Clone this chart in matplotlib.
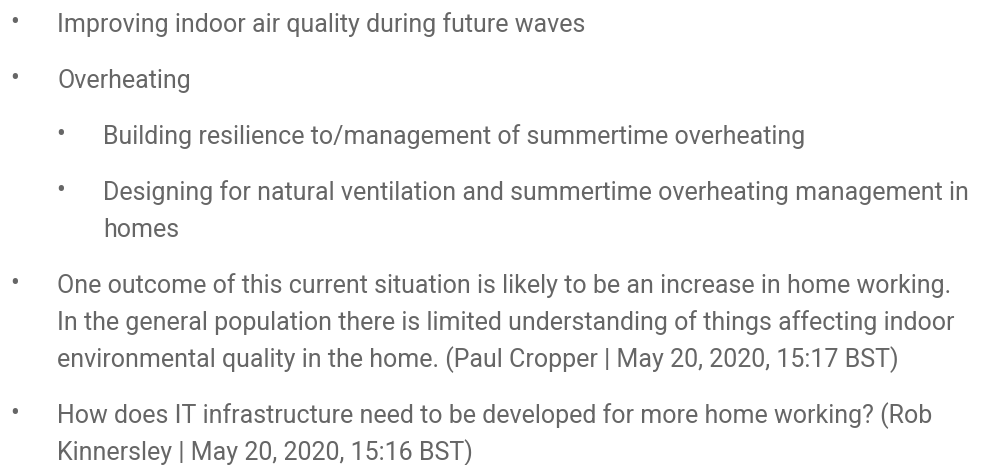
import matplotlib
matplotlib.use("Agg")
import matplotlib.pyplot as plt

plt.rcParams['font.family'] = ['Roboto', 'DejaVu Sans']

# bullet items: (indent level, wrapped lines)
levels = [0, 0, 1, 1, 0, 0]
items = [
    ["Improving indoor air quality during future waves"],
    ["Overheating"],
    ["Building resilience to/management of summertime overheating"],
    ["Designing for natural ventilation and summertime overheating management in",
     "homes"],
    ["One outcome of this current situation is likely to be an increase in home working.",
     "In the general population there is limited understanding of things affecting indoor",
     "environmental quality in the home. (Paul Cropper | May 20, 2020, 15:17 BST)"],
    ["How does IT infrastructure need to be developed for more home working? (Rob",
     "Kinnersley | May 20, 2020, 15:16 BST)"],
]

W, H = 988, 465
fig = plt.figure(figsize=(W / 100, H / 100), dpi=100)
ax = fig.add_axes([0, 0, 1, 1])
ax.set_xlim(0, W)
ax.set_ylim(H, 0)
ax.axis('off')

color = '#666666'
fs = 18.0
line_h = 37
gap = 19
bullet_x = [15, 61]
text_x = [57, 103]

y = 32
for lvl, lines in zip(levels, items):
    ax.text(bullet_x[lvl], y - 9, '•', fontsize=19, color=color,
            ha='center', va='center')
    for i, s in enumerate(lines):
        ax.text(text_x[lvl], y, s, fontsize=fs, color=color,
                ha='left', va='baseline')
        y += line_h
    y += gap

fig.savefig('out.png', dpi=100)
